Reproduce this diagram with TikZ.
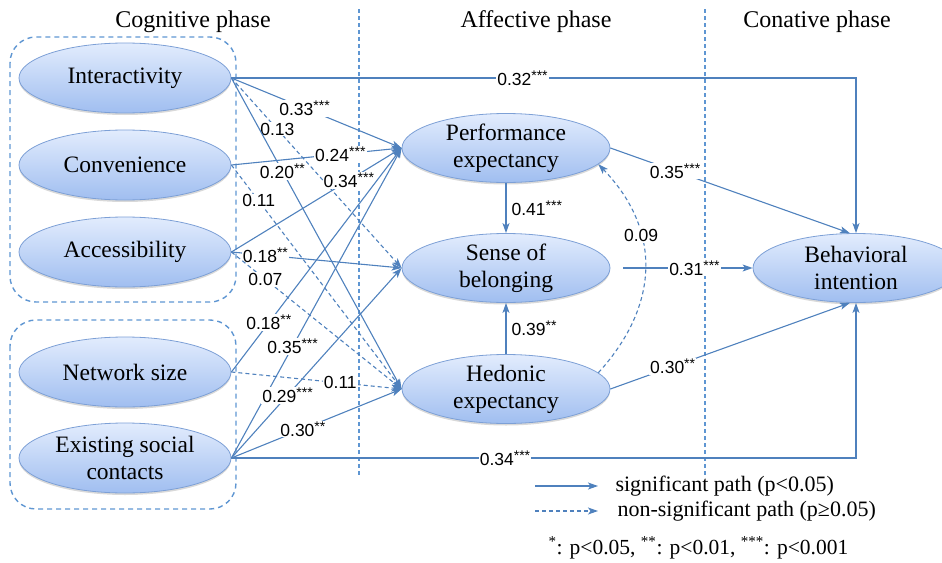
\documentclass[tikz,border=0pt]{standalone}
\usepackage{fontspec}
\setmainfont{Liberation Serif}
\setsansfont{Liberation Sans}
\usetikzlibrary{arrows.meta}
\usetikzlibrary{shapes}
\usetikzlibrary{shadows}
\definecolor{pathblue}{RGB}{79,129,189}
\definecolor{dashblue}{RGB}{95,150,210}
\definecolor{fillhi}{RGB}{226,236,253}
\definecolor{filllo}{RGB}{160,190,240}
\definecolor{rimblue}{RGB}{125,160,214}
\newcommand{\pstar}[1]{\raisebox{0.55ex}{\fontsize{14}{14}\selectfont #1}}

\begin{document}
\begin{tikzpicture}[x=1pt, y=-1pt, >={Stealth[length=10pt,width=7pt,inset=2.5pt]},
    construct/.style={ellipse, draw=rimblue, line width=0.8pt, top color=fillhi, bottom color=filllo, minimum width=212pt, minimum height=70pt, inner xsep=0pt, inner ysep=-2pt, align=center, font=\fontsize{23.5}{27}\selectfont, drop shadow={opacity=0.3, shadow xshift=0pt, shadow yshift=-2pt}},
    sig/.style={->, draw=pathblue, line width=1.1pt},
    nonsig/.style={sig, dash pattern=on 4pt off 3pt},
    coef/.style={fill=white, inner sep=1pt, font=\sffamily\fontsize{17.5}{17.5}\selectfont},
    group/.style={draw=dashblue, line width=1.4pt, dash pattern=on 5pt off 4pt, rounded corners=26pt},
    divider/.style={draw=dashblue, line width=1.2pt, dash pattern=on 4pt off 3pt},
    phase/.style={font=\fontsize{24}{28}\selectfont},
    legend/.style={anchor=west, font=\fontsize{22}{25}\selectfont}]
    \useasboundingbox (0,0) rectangle (942,562);
    \draw[divider] (359,9) -- (359,476);
    \draw[divider] (705,9) -- (705,476);
    \draw[group] (10,37) rectangle (236,302);
    \draw[group] (10,320) rectangle (236,509);
    \node(cogn)[phase] at (193,22) {Cognitive phase};
    \node(affe)[phase] at (536,22) {Affective phase};
    \node(cona)[phase] at (817,22) {Conative phase};
    \node(inter)[construct] at (125,78) {Interactivity};
    \node(conv)[construct] at (125,165) {Convenience};
    \node(acc)[construct] at (125,252) {Accessibility};
    \node(net)[construct] at (125,372) {Network size};
    \node(esc)[construct] at (125,458) {Existing social\\contacts};
    \node(pe)[construct, minimum width=208pt, minimum height=69pt] at (506,148) {Performance\\expectancy};
    \node(sb)[construct, minimum width=208pt, minimum height=69pt] at (506,268) {Sense of\\belonging};
    \node(he)[construct, minimum width=208pt, minimum height=69pt] at (506,389) {Hedonic\\expectancy};
    \node(bi)[construct, minimum width=206pt, minimum height=69pt] at (856,268) {Behavioral\\intention};
    \draw[sig] (inter.east) -| (bi.north) node[coef, pos=0.233]{0.32\pstar{***}};
    \draw[sig] (inter.east) -- (pe.west) node[coef, pos=0.43]{0.33\pstar{***}};
    \draw[nonsig] (inter.east) -- (sb.west) node[coef, pos=0.27]{0.13};
    \draw[sig] (inter.east) -- (he.west) node[coef, pos=0.3]{0.20\pstar{**}};
    \draw[sig] (conv.east) -- (pe.west) node[coef, pos=0.64]{0.24\pstar{***}};
    \draw[nonsig] (conv.east) -- (he.west) node[coef, pos=0.16]{0.11};
    \draw[sig] (acc.east) -- (pe.west) node[coef, pos=0.69]{0.34\pstar{***}};
    \draw[sig] (acc.east) -- (sb.west) node[coef, pos=0.2]{0.18\pstar{**}};
    \draw[nonsig] (acc.east) -- (he.west) node[coef, pos=0.2]{0.07};
    \draw[sig] (net.east) -- (pe.west) node[coef, pos=0.22]{0.18\pstar{**}};
    \draw[nonsig] (net.east) -- (he.west) node[coef, pos=0.64]{0.11};
    \draw[sig] (esc.east) -- (pe.west) node[coef, pos=0.36]{0.35\pstar{***}};
    \draw[sig] (esc.east) -- (sb.west) node[coef, pos=0.33]{0.29\pstar{***}};
    \draw[sig] (esc.east) -- (he.west) node[coef, pos=0.42]{0.30\pstar{**}};
    \draw[sig] (esc.east) -| (bi.south) node[coef, pos=0.219]{0.34\pstar{***}};
    \draw[sig] (pe.south) -- (sb.north) node[coef, midway, right=4pt]{0.41\pstar{***}};
    \draw[sig] (he.north) -- (sb.south) node[coef, midway, right=4pt]{0.39\pstar{**}};
    \draw[nonsig] (he.10) .. controls +(62,-68) and +(63,65) .. (pe.-10) node[coef, pos=0.65]{0.09};
    \draw[sig] (pe.east) -- (bi.100) node[coef, pos=0.27]{0.35\pstar{***}};
    \draw[sig] ([xshift=13pt]sb.east) -- (bi.west) node[coef, pos=0.55]{0.31\pstar{***}};
    \draw[sig] (he.east) -- (bi.260) node[coef, pos=0.26]{0.30\pstar{**}};
    \coordinate(sigstart) at (535,486);
    \coordinate(sigend) at (598,486);
    \coordinate(nsstart) at (535,511);
    \coordinate(nsend) at (598,511);
    \draw[sig] (sigstart) -- (sigend);
    \draw[nonsig] (nsstart) -- (nsend);
    \node(legsig)[legend] at (612,486) {significant path (p<0.05)};
    \node(legns)[legend] at (614,511) {non-significant path (p≥0.05)};
    \node(stars)[legend, font=\fontsize{21.5}{24}\selectfont] at (545,548) {\textsuperscript{*}: p<0.05, \textsuperscript{**}: p<0.01, \textsuperscript{***}: p<0.001};
\end{tikzpicture}
\end{document}
